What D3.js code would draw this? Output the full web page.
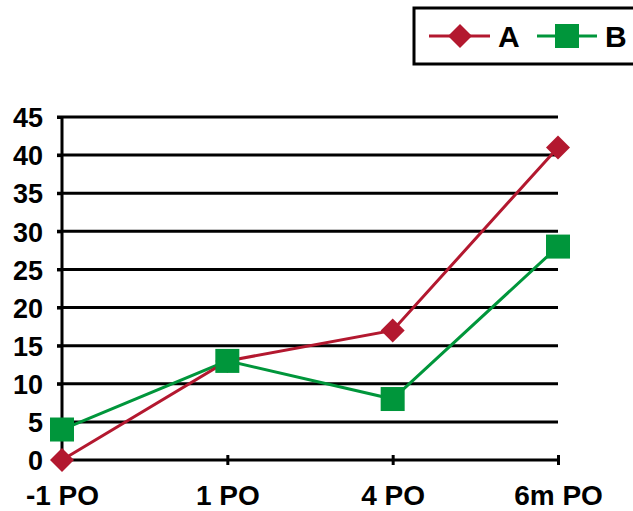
<!DOCTYPE html>
<html>
<head>
<meta charset="utf-8">
<script src="https://cdn.jsdelivr.net/npm/d3@7"></script>
<style>
  body { margin: 0; background: #fff; }
  text { font-family: "Liberation Sans", Arial, sans-serif; font-weight: bold; fill: #000; }
</style>
</head>
<body>
<div id="root"></div>
<script>
const categories = ["-1 PO", "1 PO", "4 PO", "6m PO"]
const seriesA = [0, 13, 17, 41]
const seriesB = [4, 13, 8, 28]
const yTicks = [0, 5, 10, 15, 20, 25, 30, 35, 40, 45]

const width = 633, height = 511
const colors = { A: "#B3182F", B: "#00963B" }

const svg = d3.select("#root").append("svg")
    .attr("width", width)
    .attr("height", height)

const x = d3.scalePoint().domain(categories).range([62, 558])
const y = d3.scaleLinear().domain([0, 45]).range([460, 117])

// grid lines + y ticks
svg.append("g").selectAll("line")
    .data(yTicks.filter(d => d > 0))
    .join("line")
    .attr("x1", 57).attr("x2", x(categories[categories.length - 1]))
    .attr("y1", d => y(d)).attr("y2", d => y(d))
    .attr("stroke", "#000").attr("stroke-width", 3)

// y axis
const yAxis = svg.append("g")
    .attr("transform", `translate(${x(categories[0])},0)`)
    .call(d3.axisLeft(y).tickValues(yTicks).tickSize(5).tickPadding(14))
yAxis.select(".domain").attr("stroke-width", 3).attr("d", `M0,${y(45)}V${y(0)}`)
yAxis.selectAll(".tick line").attr("stroke-width", 3)
yAxis.selectAll(".tick text").style("font-size", "27px").attr("dy", "0.36em")

// x axis
const xAxis = svg.append("g")
    .attr("transform", `translate(0,${y(0)})`)
    .call(d3.axisBottom(x).tickSize(0).tickPadding(25))
xAxis.select(".domain").attr("stroke-width", 3).attr("d", `M${x(categories[0]) - 5},0H${x(categories[3])}`)
xAxis.selectAll(".tick text").style("font-size", "28px").attr("dy", "0.71em")
xAxis.selectAll(".tick").filter((d, i) => i > 0).append("line")
    .attr("y1", -5).attr("y2", 5)
    .attr("stroke", "#000").attr("stroke-width", 3)

const line = d3.line().x((d, i) => x(categories[i])).y(d => y(d))

// series B
svg.append("path").datum(seriesB)
    .attr("d", line).attr("fill", "none")
    .attr("stroke", colors.B).attr("stroke-width", 3)
// series A
svg.append("path").datum(seriesA)
    .attr("d", line).attr("fill", "none")
    .attr("stroke", colors.A).attr("stroke-width", 3)

const diamond = d3.symbol().type(d3.symbolSquare).size(288)
svg.append("g").selectAll("path")
    .data(seriesA)
    .join("path")
    .attr("d", diamond)
    .attr("transform", (d, i) => `translate(${x(categories[i])},${y(d)}) rotate(45)`)
    .attr("fill", colors.A)

svg.append("g").selectAll("rect")
    .data(seriesB)
    .join("rect")
    .attr("x", (d, i) => x(categories[i]) - 12)
    .attr("y", d => y(d) - 12)
    .attr("width", 24).attr("height", 24)
    .attr("fill", colors.B)

// legend
const legend = svg.append("g")
legend.append("rect")
    .attr("x", 414).attr("y", 8).attr("width", 240).attr("height", 56)
    .attr("fill", "#fff").attr("stroke", "#000").attr("stroke-width", 3)

const la = legend.append("g").attr("transform", "translate(460,36)")
la.append("line").attr("x1", -31).attr("x2", 30).attr("stroke", colors.A).attr("stroke-width", 3)
la.append("path").attr("d", diamond).attr("transform", "rotate(45)").attr("fill", colors.A)
la.append("text").attr("x", 38).attr("dy", "0.36em").style("font-size", "30px").text("A")

const lb = legend.append("g").attr("transform", "translate(567,36)")
lb.append("line").attr("x1", -30).attr("x2", 30).attr("stroke", colors.B).attr("stroke-width", 3)
lb.append("rect").attr("x", -12).attr("y", -12).attr("width", 24).attr("height", 24).attr("fill", colors.B)
lb.append("text").attr("x", 38).attr("dy", "0.36em").style("font-size", "30px").text("B")
</script>
</body>
</html>
